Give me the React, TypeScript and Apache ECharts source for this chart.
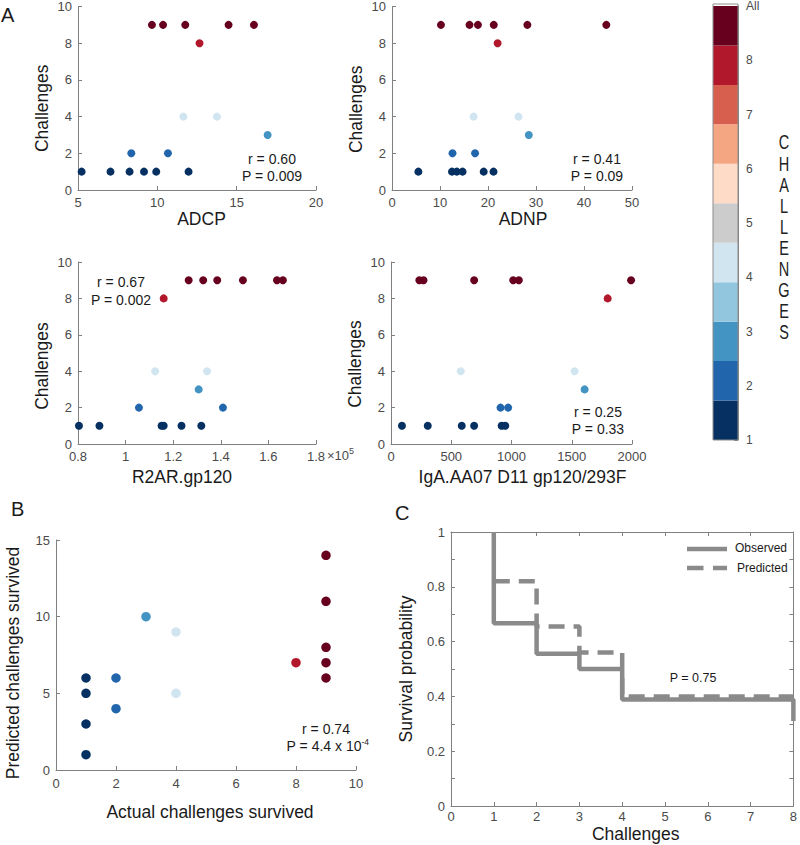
import { useEffect, useRef } from "react";
import * as echarts from "echarts";

const FONT = '"Liberation Sans", Arial, Helvetica, sans-serif';

// ---------- data ----------
// Panel A1: ADCP
const adcpX = [9.66, 10.36, 11.76, 14.49, 16.09, 12.66, 11.64, 13.76, 16.95, 8.36, 10.67, 5.23, 7.05, 8.25, 9.16, 9.93, 11.97];
const adcpY = [9, 9, 9, 9, 9, 8, 4, 4, 3, 2, 2, 1, 1, 1, 1, 1, 1];
// Panel A2: ADNP
const adnpX = [10.2, 16.15, 17.9, 21.2, 28.2, 44.65, 22.0, 17.0, 26.35, 28.5, 12.6, 17.3, 5.5, 12.5, 13.5, 14.7, 19.1, 21.15];
const adnpY = [9, 9, 9, 9, 9, 9, 8, 4, 4, 3, 2, 2, 1, 1, 1, 1, 1, 1];
// Panel A3: R2AR.gp120
const r2arX = [126500, 132600, 138500, 149300, 163600, 166100, 116000, 112400, 134200, 130700, 105600, 140900, 80400, 89000, 115100, 116000, 123500, 131800];
const r2arY = [9, 9, 9, 9, 9, 9, 8, 4, 4, 3, 2, 2, 1, 1, 1, 1, 1, 1];
// Panel A4: IgA.AA07 D11 gp120/293F
const igaX = [235, 270, 690, 1014, 1061, 1992, 1798, 579, 1524, 1607, 909, 972, 91, 305, 587, 690, 918, 948];
const igaY = [9, 9, 9, 9, 9, 9, 8, 4, 4, 3, 2, 2, 1, 1, 1, 1, 1, 1];
// Panel B
const actualSurvived = [1, 1, 1, 1, 2, 2, 3, 4, 4, 8, 9, 9, 9, 9, 9];
const predictedSurvived = [6, 5, 3, 1, 6, 4, 10, 9, 5, 7, 14, 11, 8, 7, 6];
// Panel C (Kaplan-Meier steps)
const observedT = [1, 1, 2, 3, 4, 8, 8];
const observedS = [1, 0.667, 0.556, 0.5, 0.389, 0.389, 0.31];
const predictedT = [1, 2, 3, 4, 8];
const predictedS = [0.82, 0.655, 0.56, 0.4, 0.4];

// Colour bar (bottom -> top), RdBu-like
const colorbarColors = ["#053061", "#2166ac", "#4393c3", "#92c5de", "#d1e5f0", "#cccccc", "#fddbc7", "#f4a582", "#d6604d", "#b2182b", "#67001f"];
const colorbarTicks = [1, 2, 3, 4, 5, 6, 7, 8, 9];
const challengeColor: Record<number, string> = {
  1: "#053061",
  2: "#2166ac",
  3: "#4393c3",
  4: "#d1e5f0",
  8: "#b2182b",
  9: "#67001f",
};

const axisColor = "#808080";
const labelColor = "#4a4a4a";

function scatterData(xs: number[], ys: number[], cs: number[]) {
  return xs.map((x, i) => ({ value: [x, ys[i]], itemStyle: { color: challengeColor[cs[i]] } }));
}

const plain = (v: number) => String(v);

function mkAxis(o: any) {
  return {
    type: "value",
    gridIndex: o.gridIndex,
    min: o.min,
    max: o.max,
    interval: o.interval,
    position: o.position,
    axisLine: { show: true, onZero: false, lineStyle: { color: axisColor, width: 1 } },
    axisTick: { show: true, inside: true, length: 4, lineStyle: { color: axisColor } },
    axisLabel: {
      show: o.showLabel !== false,
      color: labelColor,
      fontSize: o.labelSize ?? 13,
      fontFamily: FONT,
      margin: o.labelMargin ?? 6,
      formatter: o.formatter ?? plain,
    },
    splitLine: { show: false },
    name: o.name,
    nameLocation: "middle",
    nameGap: o.nameGap,
    nameTextStyle: { color: "#1a1a1a", fontSize: 17.5, fontFamily: FONT, padding: o.namePad ?? 0 },
  };
}

function txt(x: number, y: number, text: string, size: number, extra: any = {}) {
  return {
    type: "text",
    x,
    y,
    z: 100,
    style: {
      text,
      fill: extra.fill ?? "#1a1a1a",
      fontSize: size,
      fontFamily: FONT,
      align: extra.align ?? "center",
      verticalAlign: extra.verticalAlign ?? "middle",
      textAlign: extra.align ?? "center",
      textVerticalAlign: extra.verticalAlign ?? "middle",
      rich: extra.rich,
    },
    scaleY: extra.scaleY,
  };
}

function buildOption() {
  const grids = [
    { left: 78, top: 6, width: 238, height: 184 },
    { left: 392, top: 6, width: 240, height: 184 },
    { left: 78, top: 262, width: 238, height: 182 },
    { left: 391, top: 262, width: 241, height: 182 },
    { left: 713, top: 4, width: 25, height: 436 },
    { left: 56, top: 540, width: 300, height: 230 },
    { left: 451, top: 532, width: 346, height: 274 },
  ];

  const xAxis = [
    mkAxis({ gridIndex: 0, min: 5, max: 20, interval: 5, name: "ADCP", nameGap: 20, namePad: [0, 0, 0, 9] }),
    mkAxis({ gridIndex: 1, min: 0, max: 50, interval: 10, name: "ADNP", nameGap: 20, namePad: [0, 0, 0, 22] }),
    mkAxis({
      gridIndex: 2, min: 80000, max: 180000, interval: 20000, name: "R2AR.gp120", nameGap: 24, namePad: [0, 30, 0, 0],
      formatter: (v: number) => String(Math.round(v / 1000) / 100),
    }),
    mkAxis({ gridIndex: 3, min: 0, max: 2000, interval: 500, name: "IgA.AA07 D11 gp120/293F", nameGap: 24, namePad: [0, 0, 0, 22] }),
    { type: "value", gridIndex: 4, min: 0, max: 1, show: false },
    mkAxis({ gridIndex: 5, min: 0, max: 10, interval: 2, name: "Actual challenges survived", nameGap: 33, namePad: [0, 0, 0, 8], labelMargin: 7 }),
    mkAxis({ gridIndex: 6, min: 0, max: 8, interval: 1, name: "Challenges", nameGap: 19, namePad: [0, 0, 0, 27], labelMargin: 4 }),
    mkAxis({ gridIndex: 6, min: 0, max: 8, interval: 1, position: "top", showLabel: false }),
  ];

  const yAxis = [
    mkAxis({ gridIndex: 0, min: 0, max: 10, interval: 2, name: "Challenges", nameGap: 27, namePad: [0, 20, 0, 0] }),
    mkAxis({ gridIndex: 1, min: 0, max: 10, interval: 2, name: "Challenges", nameGap: 27, namePad: [0, 22, 0, 0] }),
    mkAxis({ gridIndex: 2, min: 0, max: 10, interval: 2, name: "Challenges", nameGap: 27, namePad: [0, 26, 0, 0] }),
    mkAxis({ gridIndex: 3, min: 0, max: 10, interval: 2, name: "Challenges", nameGap: 27, namePad: [0, 22, 0, 0] }),
    mkAxis({
      gridIndex: 4, min: 1, max: 9, interval: 1, position: "right", labelSize: 12, labelMargin: 8,
      formatter: (v: number) => (v === colorbarTicks[colorbarTicks.length - 1] ? "All" : String(v)),
    }),
    mkAxis({ gridIndex: 5, min: 0, max: 15, interval: 5, name: "Predicted challenges survived", nameGap: 34, namePad: [0, 16, 0, 0] }),
    mkAxis({
      gridIndex: 6, min: 0, max: 1, interval: 0.1, name: "Survival probability", nameGap: 36,
      formatter: (v: number) => {
        const k = Math.round(v * 10);
        return k % 2 === 0 ? String(k / 10) : "";
      },
    }),
    mkAxis({ gridIndex: 6, min: 0, max: 1, interval: 0.1, position: "right", showLabel: false }),
  ];

  const binSize = (colorbarTicks[colorbarTicks.length - 1] - colorbarTicks[0]) / colorbarColors.length;
  const cbBins = colorbarColors.map((_, i) => [colorbarTicks[0] + i * binSize, colorbarTicks[0] + (i + 1) * binSize, i]);

  const scatterBase = { type: "scatter", symbolSize: 8, itemStyle: { opacity: 1 } };
  const lineColor = "#8a8a8a";

  const series: any[] = [
    { ...scatterBase, xAxisIndex: 0, yAxisIndex: 0, data: scatterData(adcpX, adcpY, adcpY) },
    { ...scatterBase, xAxisIndex: 1, yAxisIndex: 1, data: scatterData(adnpX, adnpY, adnpY) },
    { ...scatterBase, xAxisIndex: 2, yAxisIndex: 2, data: scatterData(r2arX, r2arY, r2arY) },
    { ...scatterBase, xAxisIndex: 3, yAxisIndex: 3, data: scatterData(igaX, igaY, igaY) },
    {
      type: "custom",
      xAxisIndex: 4,
      yAxisIndex: 4,
      silent: true,
      data: cbBins,
      renderItem: (_p: any, api: any) => {
        const p0 = api.coord([0, api.value(0)]);
        const p1 = api.coord([1, api.value(1)]);
        return {
          type: "rect",
          shape: { x: p0[0], y: p1[1], width: p1[0] - p0[0], height: p0[1] - p1[1] },
          style: { fill: colorbarColors[api.value(2)] },
        };
      },
    },
    { ...scatterBase, symbolSize: 9.5, xAxisIndex: 5, yAxisIndex: 5, data: scatterData(actualSurvived, predictedSurvived, actualSurvived) },
    {
      type: "line", name: "Observed", xAxisIndex: 6, yAxisIndex: 6, step: "end", symbol: "none", clip: false,
      data: observedT.map((t, i) => [t, observedS[i]]),
      lineStyle: { color: lineColor, width: 4.5 },
    },
    {
      type: "line", name: "Predicted", xAxisIndex: 6, yAxisIndex: 6, step: "end", symbol: "none", clip: false,
      data: predictedT.map((t, i) => [t, predictedS[i]]),
      lineStyle: { color: lineColor, width: 4.5, type: [16, 9] },
    },
  ];

  const letters = "CHALLENGES".split("");
  const graphic: any[] = [
    txt(1, 15, "A", 20, { align: "left" }),
    txt(11, 509, "B", 20, { align: "left" }),
    txt(395, 513, "C", 20, { align: "left" }),
    txt(272, 159, "r = 0.60", 14),
    txt(272, 176, "P = 0.009", 14),
    txt(597, 159, "r = 0.41", 14),
    txt(597, 176, "P = 0.09", 14),
    txt(121, 282, "r = 0.67", 14),
    txt(121, 299.5, "P = 0.002", 14),
    txt(598, 412, "r = 0.25", 14),
    txt(598, 428.5, "P = 0.33", 14),
    txt(326, 729, "r = 0.74", 14),
    txt(369, 746, "{m|P = 4.4 x 10}{s|-4}", 14, {
      align: "right",
      rich: {
        m: { fontSize: 14, fontFamily: FONT, fill: "#1a1a1a", lineHeight: 18 },
        s: { fontSize: 8.5, fontFamily: FONT, fill: "#1a1a1a", verticalAlign: "top", lineHeight: 10 },
      },
    }),
    txt(327, 455, "{m|\u00d710}{s|5}", 13, {
      align: "left",
      rich: {
        m: { fontSize: 13, fontFamily: FONT, fill: labelColor, lineHeight: 18 },
        s: { fontSize: 9, fontFamily: FONT, fill: labelColor, verticalAlign: "top", lineHeight: 10 },
      },
    }),
    txt(693, 678, "P = 0.75", 12.5),
    {
      type: "rect", z: 100, shape: { x: 713, y: 4, width: 25, height: 436 },
      style: { fill: "none", stroke: "#8c8c8c", lineWidth: 1 },
    },
    { type: "line", z: 100, shape: { x1: 687, y1: 549, x2: 727, y2: 549 }, style: { stroke: lineColor, lineWidth: 4.5 } },
    { type: "line", z: 100, shape: { x1: 687, y1: 568, x2: 727, y2: 568 }, style: { stroke: lineColor, lineWidth: 4.5, lineDash: [16.5, 9.5] } },
    txt(735, 548, "Observed", 12, { align: "left" }),
    txt(737, 567.5, "Predicted", 12, { align: "left" }),
    ...letters.map((ch, i) => txt(784, 142.5 + i * 21.1, ch, 14.5, { scaleY: 1.4, fill: "#222" })),
  ];

  return {
    animation: false,
    backgroundColor: "#ffffff",
    textStyle: { fontFamily: FONT },
    grid: grids,
    xAxis,
    yAxis,
    series,
    graphic,
  };
}

export default function App() {
  const ref = useRef<HTMLDivElement>(null);
  useEffect(() => {
    const chart = echarts.init(ref.current!, null, { renderer: "svg" });
    chart.setOption(buildOption() as any);
    return () => chart.dispose();
  }, []);
  return (
    <div
      ref={ref}
      style={{ position: "fixed", left: 0, top: 0, width: 800, height: 845, background: "#fff" }}
    />
  );
}
